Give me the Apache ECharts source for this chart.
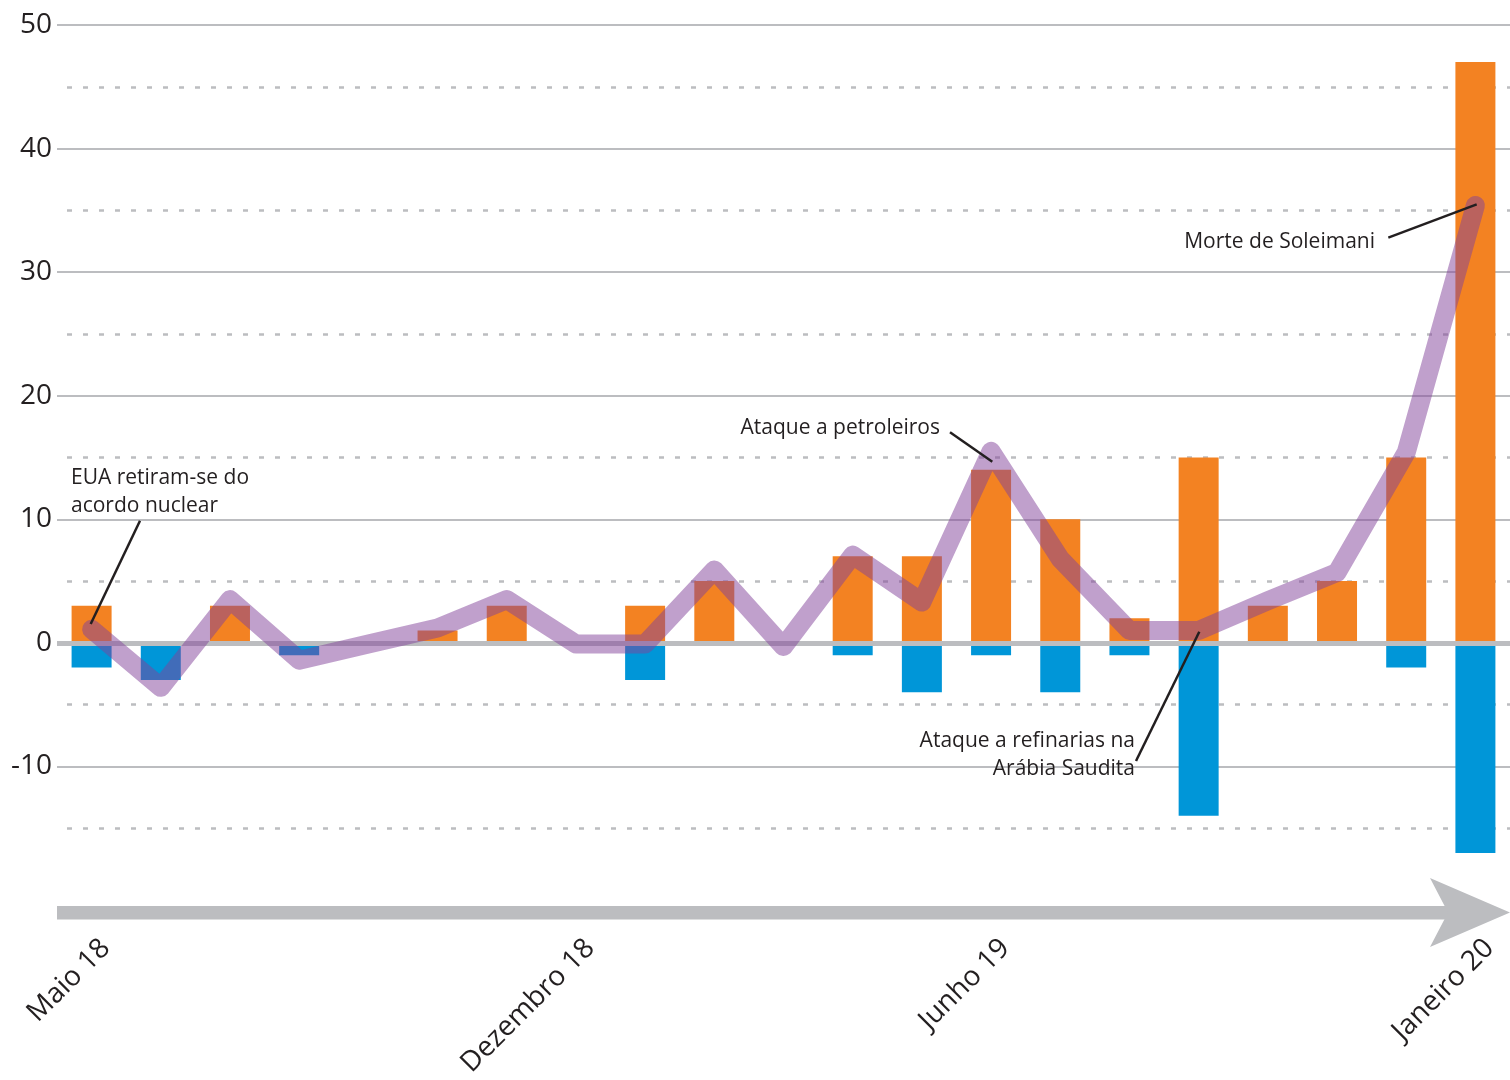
<!DOCTYPE html>
<html>
<head>
<meta charset="utf-8">
<script src="https://cdn.jsdelivr.net/npm/echarts@6/dist/echarts.min.js"></script>
<style>
html,body{margin:0;padding:0;background:#ffffff;}
#chart{width:1510px;height:1080px;}
</style>
</head>
<body>
<div id="chart"></div>
<script>
// ---- data ----
const months = ['Maio 18','Junho 18','Julho 18','Agosto 18','Setembro 18','Outubro 18','Novembro 18','Dezembro 18',
  'Janeiro 19','Fevereiro 19','Março 19','Abril 19','Maio 19','Junho 19','Julho 19','Agosto 19','Setembro 19',
  'Outubro 19','Novembro 19','Dezembro 19','Janeiro 20'];
const labeledMonths = ['Maio 18','Dezembro 18','Junho 19','Janeiro 20'];
const positiveValues = [3,0,3,0,0,1,3,0,3,5,0,7,7,14,10,2,15,3,5,15,47];
const negativeValues = [-2,-3,0,-1,0,0,0,0,-3,0,0,-1,-4,-1,-4,-1,-14,0,0,-2,-17];
const netValues = [1.1,-3.6,3.5,-1.4,-0.1,1.2,3.5,-0.1,-0.1,5.9,-0.3,7.1,3.3,15.5,6.8,1.0,1.0,3.4,5.7,15.4,35.4];
const yTickLabels = [-10,0,10,20,30,40,50];

// ---- styles ----
const ORANGE = '#f38222';
const BLUE = '#0096d8';
const GRAY = '#bcbdc0';
const TEXT = '#231f20';
const FONT = '"Open Sans", "Noto Sans", sans-serif';
const NONE = 'rgba(0,0,0,0)';

const chart = echarts.init(document.getElementById('chart'), null, {renderer:'canvas'});

function annText(text, x, y, align) {
  return {type:'text', z:100, style:{text:text, x:x, y:y, align:align, verticalAlign:'middle',
    fontSize:21, fontFamily:FONT, fill:TEXT}};
}
function leader(x1, y1, x2, y2) {
  return {type:'line', z:100, shape:{x1:x1, y1:y1, x2:x2, y2:y2}, style:{stroke:TEXT, lineWidth:2.5}};
}

const option = {
  animation:false,
  backgroundColor:'#ffffff',
  grid:{left:57, right:0, top:25, bottom:188, containLabel:false},
  xAxis:{
    type:'category', data:months, boundaryGap:true,
    axisLine:{show:false}, axisTick:{show:false}, splitLine:{show:false},
    axisLabel:{
      interval:function(i, v){ return labeledMonths.indexOf(v) >= 0; },
      rotate:45, margin:68, padding:[0,-20,0,0],
      fontFamily:FONT, fontSize:28, color:TEXT
    }
  },
  yAxis:[
    {type:'value', min:-20, max:50, interval:10,
     axisLine:{show:false}, axisTick:{show:false},
     axisLabel:{margin:5, fontFamily:FONT, fontSize:28, color:TEXT,
       formatter:function(v){ return yTickLabels.indexOf(v) >= 0 ? String(v) : ''; }},
     splitLine:{show:true, lineStyle:{color:[NONE,GRAY,GRAY,GRAY,GRAY,GRAY,GRAY,GRAY], width:2}}},
    {type:'value', min:-20, max:50, interval:5,
     axisLine:{show:false}, axisTick:{show:false}, axisLabel:{show:false},
     splitLine:{show:true, lineStyle:{color:[NONE,GRAY], width:2.5, type:[5,11], dashOffset:6}}}
  ],
  series:[
    {type:'bar', name:'positivo', data:positiveValues, stack:'total', barWidth:40, yAxisIndex:0,
     itemStyle:{color:ORANGE},
     markLine:{silent:true, symbol:'none', animation:false, label:{show:false},
       lineStyle:{color:GRAY, width:5, type:'solid'}, data:[{yAxis:0}]}},
    {type:'bar', name:'negativo', data:negativeValues, stack:'total', barWidth:40, yAxisIndex:0,
     itemStyle:{color:BLUE}},
    {type:'line', name:'saldo', data:netValues, yAxisIndex:0, z:10, symbol:'none', smooth:false,
     lineStyle:{color:'#814199', opacity:0.5, width:19, cap:'round', join:'round'}}
  ],
  graphic:[
    {type:'rect', z:1, shape:{x:57, y:906, width:1393, height:13.5}, style:{fill:GRAY}},
    {type:'polygon', z:1, shape:{points:[[1430,878],[1510,912.5],[1430,947],[1448,912.5]]}, style:{fill:GRAY}},
    annText('EUA retiram-se do', 71, 478, 'left'),
    annText('acordo nuclear', 71, 506.5, 'left'),
    leader(140, 520.7, 90.7, 624),
    annText('Ataque a petroleiros', 940, 428, 'right'),
    leader(950, 432.3, 992.3, 461.7),
    annText('Morte de Soleimani', 1375, 242, 'right'),
    leader(1388.3, 237.7, 1476.7, 204.3),
    annText('Ataque a refinarias na', 1135, 741, 'right'),
    annText('Arábia Saudita', 1135, 769.5, 'right'),
    leader(1136, 761, 1199.3, 631.7)
  ]
};
chart.setOption(option);
</script>
</body>
</html>
